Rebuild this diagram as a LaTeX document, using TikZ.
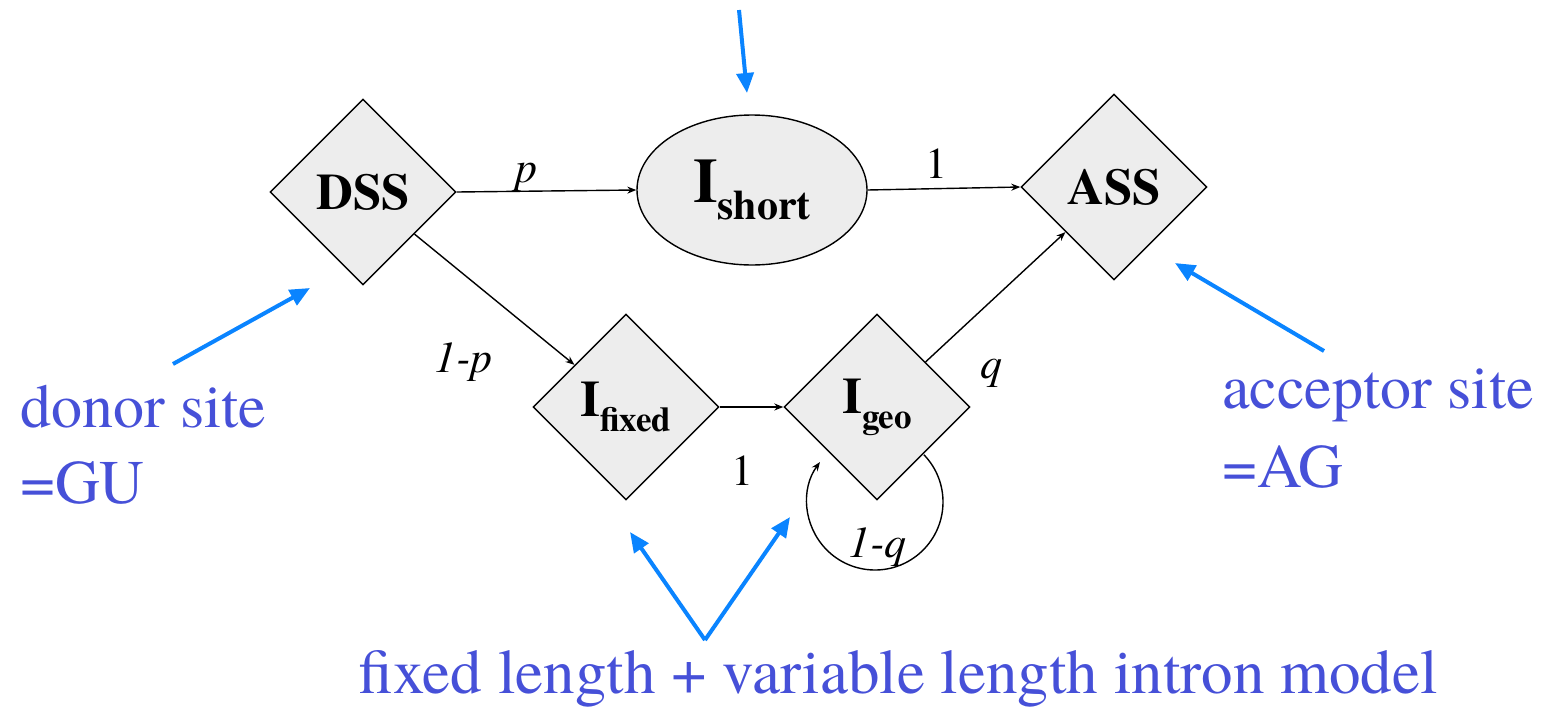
\documentclass[tikz,border=0pt]{standalone}
\usepackage{fontspec}
\setmainfont{texgyretermes}[Extension=.otf,UprightFont=*-regular,BoldFont=*-bold,ItalicFont=*-italic,BoldItalicFont=*-bolditalic]
\usetikzlibrary{shapes.geometric,arrows.meta,calc}
\definecolor{nodegray}{HTML}{EDEDED}
\definecolor{arrowblue}{HTML}{0A84FF}
\definecolor{textblue}{HTML}{4650D8}
\begin{document}
\begin{tikzpicture}[x=1pt,y=-1pt,
  state/.style={draw=black,line width=1.4pt,fill=nodegray,inner sep=0pt},
  dia/.style={state,diamond,minimum width=186pt,minimum height=186pt},
  oval/.style={state,ellipse,minimum width=230pt,minimum height=150pt},
  conn/.style={draw=black,line width=1.4pt,-{Stealth[length=9pt,width=7pt]}},
  prob/.style={anchor=base west,inner sep=0pt,font=\fontsize{44}{44}\selectfont},
  note/.style={anchor=base west,inner sep=0pt,text=textblue,font=\fontsize{62}{70}\selectfont},
  pointer/.style={draw=arrowblue,line width=4pt,-{Triangle[length=20pt,width=17pt]}}
]
\useasboundingbox (0,0) rectangle (1547,707);
% states
\node[dia] (DSS) at (363,192) {\fontsize{51}{51}\selectfont\bfseries DSS};
\node[dia] (ASS) at (1114,187) {\fontsize{51}{51}\selectfont\bfseries ASS};
\node[oval] (Ishort) at (752,190) {\bfseries\fontsize{63}{63}\selectfont I\fontsize{42}{42}\selectfont\raisebox{-17pt}{short}};
\node[dia] (Ifixed) at (626,407) {\bfseries\fontsize{51}{51}\selectfont I\fontsize{35}{35}\selectfont\raisebox{-15pt}{fixed}};
\node[dia] (Igeo) at (877,407) {\bfseries\fontsize{51}{51}\selectfont I\fontsize{35}{35}\selectfont\raisebox{-15pt}{geo}};
% transitions
\draw[conn] (DSS.east) -- (Ishort.west);
\draw[conn] (Ishort.east) -- (ASS.west);
\draw[conn] (DSS) -- (Ifixed);
\draw[conn] (Ifixed.east) -- (Igeo.west);
\draw[conn] (Igeo) -- (ASS);
\coordinate (loopc) at (875,502);
\draw[conn] ($(loopc)+(-44:68)$) arc[start angle=-44,end angle=216,radius=68];
% transition labels
\node[prob] (lp) at (515,182) {\itshape p};
\node[prob] (l1a) at (925,178) {1};
\node[prob] (l1p) at (434,372) {\itshape 1-p};
\node[prob] (l1b) at (731,485) {1};
\node[prob] (lq) at (980,378) {\itshape q};
\node[prob] (l1q) at (848,557) {\itshape 1-q};
% annotations
\node[note] (donor) at (20,427) {donor site};
\node[note] (gu) at (20,503) {=GU};
\node[note] (acc) at (1222,408) {acceptor site};
\node[note] (ag) at (1222,487) {=AG};
\node[note,font=\fontsize{63}{70}\selectfont] (model) at (358,693) {fixed length + variable length intron model};
% pointer arrows
\coordinate (topstart) at (739,10);
\coordinate (topend) at (747,93);
\coordinate (dstart) at (173,364);
\coordinate (dend) at (310,288);
\coordinate (astart) at (1324,351);
\coordinate (aend) at (1175,263);
\coordinate (bstart) at (705,640);
\coordinate (bleft) at (630,532);
\coordinate (bright) at (790,517);
\draw[pointer] (topstart) -- (topend);
\draw[pointer] (dstart) -- (dend);
\draw[pointer] (astart) -- (aend);
\draw[pointer] (bstart) -- (bleft);
\draw[pointer] (bstart) -- (bright);
\end{tikzpicture}
\end{document}
